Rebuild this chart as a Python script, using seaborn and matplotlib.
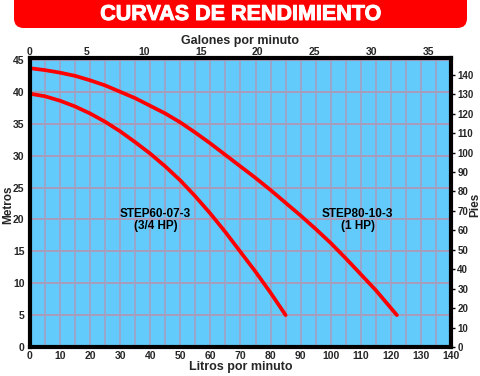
import matplotlib
matplotlib.use("Agg")
import matplotlib.pyplot as plt
import matplotlib.patheffects as pe
import seaborn as sns
import pandas as pd
import numpy as np
from matplotlib.patches import FancyBboxPatch

# Data: flow in litres/min, head in metres
lpm_07 = [0, 5, 10, 15, 20, 25, 30, 35, 40, 45, 50, 55, 60, 65, 70, 75, 80, 85]
head_07 = [39.7, 39.3, 38.6, 37.7, 36.6, 35.3, 33.8, 32.1, 30.3, 28.3, 26.1, 23.6,
           20.9, 18.0, 14.9, 11.8, 8.5, 5.0]
lpm_10 = [0, 5, 10, 15, 20, 25, 30, 35, 40, 45, 50, 55, 60, 65, 70, 75, 80, 85, 90,
          95, 100, 105, 110, 115, 122]
head_10 = [43.7, 43.4, 43.0, 42.5, 41.8, 41.0, 40.0, 39.0, 37.8, 36.6, 35.2, 33.6,
           31.9, 30.1, 28.3, 26.5, 24.6, 22.6, 20.6, 18.5, 16.3, 13.9, 11.4, 8.9, 5.0]
models = ["STEP60-07-3", "STEP80-10-3"]
labels = ["STEP60-07-3\n(3/4 HP)", "STEP80-10-3\n(1 HP)"]
label_pos = [(41.7, 19.9), (109, 19.9)]
x_ticks = list(range(0, 141, 10))
gal_ticks = list(range(0, 36, 5))
m_ticks = list(range(0, 46, 5))
ft_ticks = list(range(0, 141, 10))
title = "CURVAS DE RENDIMIENTO"

df = pd.concat([
    pd.DataFrame({"lpm": lpm_07, "head": head_07, "model": models[0]}),
    pd.DataFrame({"lpm": lpm_10, "head": head_10, "model": models[1]}),
])

sns.set_theme(style="white")
plt.rcParams['font.family'] = ['Liberation Sans', 'DejaVu Sans']
plt.rcParams['font.weight'] = 'bold'

W, H = 481, 376
fig = plt.figure(figsize=(W / 100, H / 100), dpi=100)
fig.patch.set_facecolor("white")
ax = fig.add_axes([30 / W, 1 - 347 / H, 421 / W, 289 / H])
ax.set_facecolor("#62cbfc")

sns.lineplot(data=df, x="lpm", y="head", hue="model", palette=["#ff0000", "#ff0000"],
             linewidth=2.7, legend=False, ax=ax, sort=False)

ax.set_xlim(0, 140)
ax.set_ylim(0, 45.3)
ax.set_xticks(np.arange(0, 141, 5), minor=True)
ax.set_xticks(x_ticks)
ax.set_yticks(m_ticks)
grid_c = "#a89cbc"
ax.grid(True, which="both", axis="x", color=grid_c, linewidth=1.1)
ax.grid(True, which="major", axis="y", color=grid_c, linewidth=1.4)
ax.tick_params(axis="x", which="both", length=0, labelsize=7.5, pad=3)
ax.tick_params(axis="y", length=0, labelsize=7.5, pad=4)
for lab in ax.get_xticklabels() + ax.get_yticklabels():
    lab.set_fontweight("bold")
for s in ax.spines.values():
    s.set_linewidth(3)
    s.set_color("black")
ax.set_xlabel("Litros por minuto", fontsize=9, fontweight="bold", labelpad=0)
ax.set_ylabel("")

top = ax.secondary_xaxis("top", functions=(lambda x: x / 3.785, lambda g: g * 3.785))
top.set_xticks(gal_ticks)
top.tick_params(length=0, labelsize=7.5, pad=1)
top.set_xlabel("Galones por minuto", fontsize=9, fontweight="bold", labelpad=2)
for lab in top.get_xticklabels():
    lab.set_fontweight("bold")

right = ax.secondary_yaxis("right", functions=(lambda m: m * 3.281, lambda f: f / 3.281))
right.set_yticks(ft_ticks)
right.tick_params(length=3, width=1, labelsize=7, pad=1.5, color="black")
for lab in right.get_yticklabels():
    lab.set_fontweight("bold")

fig.text(8 / W, 1 - 205 / H, "Metros", rotation=90, ha="center", va="center",
         fontsize=8.5, fontweight="bold")
fig.text(475.5 / W, 1 - 205 / H, "Pies", rotation=90, ha="center", va="center",
         fontsize=8.5, fontweight="bold")

for (x, y), t in zip(label_pos, labels):
    ax.text(x, y, t, ha="center", va="center", fontsize=8.5, fontweight="bold",
            linespacing=1.0, color="black")

# title banner
banner = FancyBboxPatch((14 / W, 1 - 28 / H), 453 / W, 40 / H,
                        boxstyle="round,pad=0,rounding_size=0.02",
                        transform=fig.transFigure, facecolor="#ff0000",
                        edgecolor="none", mutation_aspect=W / H)
fig.patches.append(banner)
fig.text(240 / W, 1 - 14.5 / H, title, ha="center", va="center", color="white",
         fontsize=15.5, fontweight="bold",
         path_effects=[pe.withStroke(linewidth=0.7, foreground="white")])

fig.savefig("out.png", dpi=100, facecolor="white")
